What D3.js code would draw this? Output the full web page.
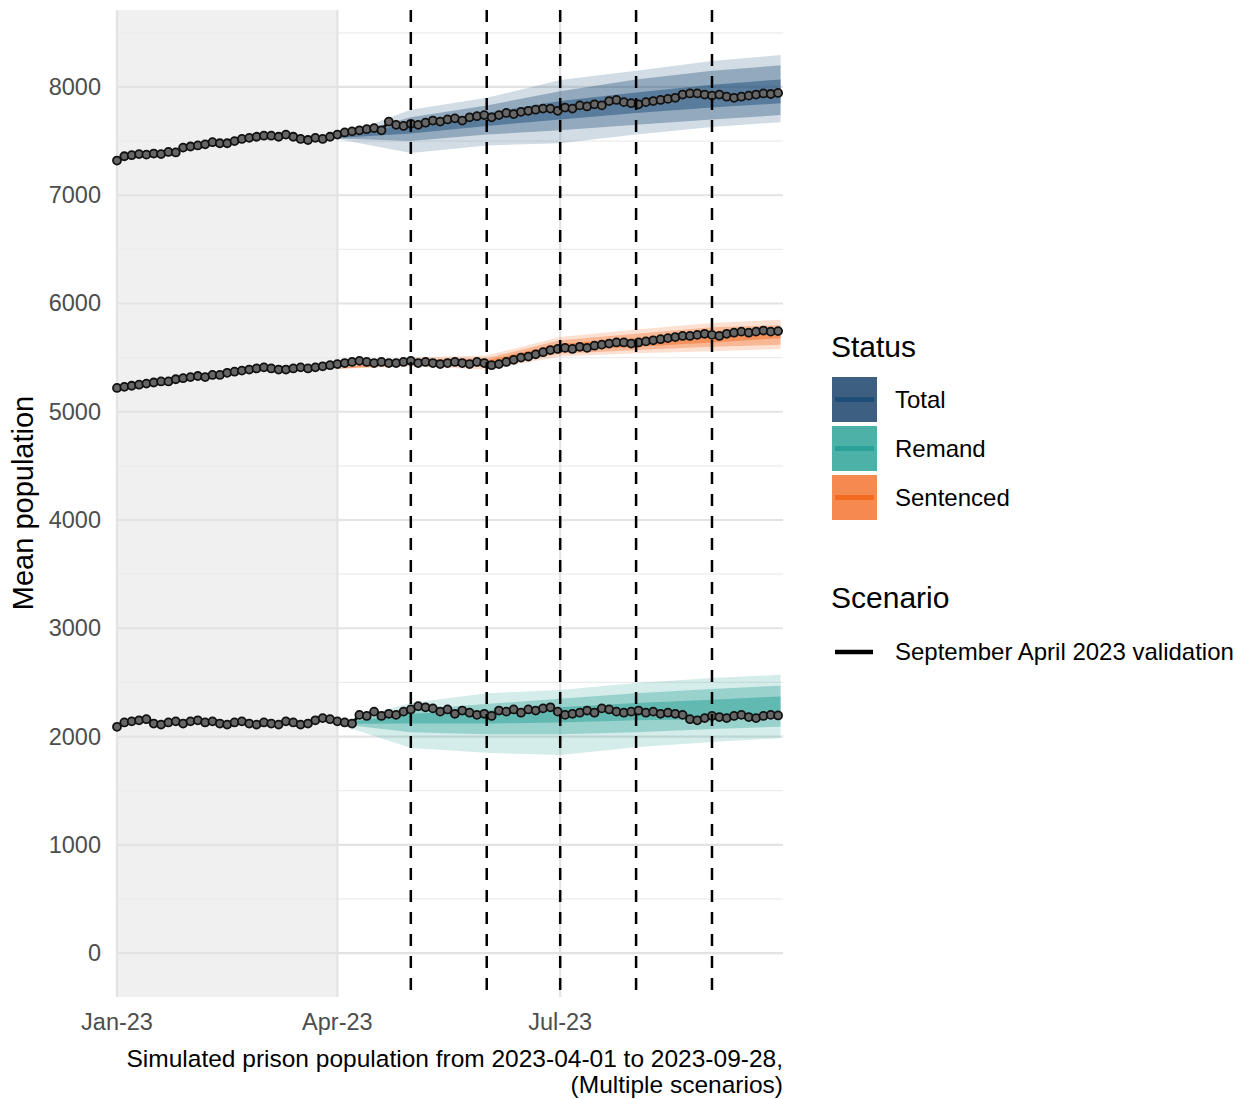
<!DOCTYPE html>
<html>
<head>
<meta charset="utf-8">
<script src="https://cdn.jsdelivr.net/npm/d3@7"></script>
<style>
  body { margin: 0; background: #fff; }
  text { font-family: "Liberation Sans", Arial, sans-serif; }
</style>
</head>
<body>
<svg id="chart" width="1252" height="1099"></svg>
<script>
// Observed series, one value every 3 days from 2023-01-01
const total = [7320,7360,7370,7380,7375,7385,7380,7400,7395,7440,7450,
  7460,7470,7490,7480,7480,7500,7520,7530,7540,7550,
  7550,7540,7560,7540,7520,7510,7530,7520,7540,7560,
  7580,7590,7600,7610,7620,7600,7680,7650,7640,7660,
  7650,7670,7690,7680,7700,7710,7690,7720,7730,7740,
  7720,7740,7760,7750,7770,7780,7790,7800,7800,7780,
  7810,7800,7830,7820,7840,7830,7870,7880,7860,7850,
  7840,7860,7870,7880,7890,7900,7930,7940,7940,7930,
  7920,7930,7910,7900,7910,7920,7930,7940,7935,7945];
const remand = [2090,2130,2140,2150,2160,2120,2110,2130,2140,2120,2140,
  2150,2130,2140,2120,2110,2130,2140,2120,2110,2130,
  2120,2110,2140,2130,2110,2120,2150,2170,2160,2140,
  2130,2120,2200,2190,2230,2190,2210,2200,2230,2250,
  2280,2270,2260,2230,2250,2210,2240,2220,2200,2210,
  2190,2240,2230,2250,2220,2250,2240,2260,2270,2230,
  2200,2210,2220,2240,2220,2260,2250,2230,2220,2230,
  2240,2220,2230,2210,2220,2210,2200,2160,2150,2170,
  2190,2180,2170,2190,2200,2180,2170,2190,2200,2195];
const sentenced = [5220,5230,5240,5250,5260,5270,5280,5280,5300,5310,5320,
  5330,5320,5340,5340,5360,5370,5380,5390,5400,5410,
  5400,5390,5390,5400,5410,5400,5410,5420,5430,5440,
  5450,5460,5470,5460,5450,5460,5450,5450,5460,5470,
  5450,5460,5450,5440,5450,5460,5450,5440,5460,5450,
  5430,5440,5460,5480,5500,5510,5530,5550,5570,5580,
  5590,5580,5600,5590,5610,5620,5630,5640,5640,5630,
  5640,5650,5660,5670,5680,5690,5700,5700,5710,5720,
  5710,5700,5720,5730,5740,5730,5740,5750,5740,5745];

// Simulation quantile knots (days since 2023-01-01)
const knotDays = [90,120,151,181,212,243,271];
const totalBands = {
  lo95: [7520,7390,7460,7480,7560,7630,7675], hi95: [7540,7790,7900,8065,8150,8240,8295],
  lo80: [7525,7500,7560,7600,7650,7700,7740], hi80: [7535,7720,7830,7960,8070,8150,8200],
  lo50: [7528,7570,7640,7700,7760,7810,7850], hi50: [7532,7670,7760,7870,7950,8020,8070]
};
const remandBands = {
  lo95: [2115,1895,1850,1830,1900,1950,1985], hi95: [2125,2310,2400,2430,2495,2540,2570],
  lo80: [2117,2040,2020,2020,2040,2070,2090], hi80: [2123,2250,2300,2350,2400,2440,2470],
  lo50: [2119,2120,2120,2130,2150,2160,2180], hi50: [2121,2210,2240,2270,2310,2340,2370]
};
const sentencedBands = {
  lo95: [5395,5420,5390,5510,5540,5560,5580], hi95: [5405,5500,5520,5690,5760,5820,5850],
  lo80: [5397,5430,5415,5535,5570,5600,5620], hi80: [5403,5490,5495,5660,5720,5780,5800],
  lo50: [5399,5445,5435,5565,5600,5640,5680], hi50: [5401,5475,5475,5625,5680,5730,5760]
};
const markerDates = ["2023-05-01","2023-06-01","2023-07-01","2023-08-01","2023-09-01"];
const xTicks = ["2023-01-01","2023-04-01","2023-07-01"];
const yTicks = [0,1000,2000,3000,4000,5000,6000,7000,8000];
const statusNames = ["Total","Remand","Sentenced"];
const statusColors = ["#1f4e79","#2aa198","#f26b21"];
const keyColors = ["#3d5f82","#4cb2a8","#f48a50"];

const parse = d3.utcParse("%Y-%m-%d");
const start = parse("2023-01-01");
const dayDate = d => d3.utcDay.offset(start, d);

const svg = d3.select("#chart");
const L = 117, R = 783, T = 10, B = 997;
const x = d3.scaleUtc().domain([start, dayDate(272)]).range([L, R]);
const y = d3.scaleLinear().domain([-406, 8711]).range([B, T]);

// grey history region
svg.append("rect").attr("x", L).attr("y", T)
  .attr("width", x(parse("2023-04-01")) - L).attr("height", B - T).attr("fill", "#f0f0f0");

// gridlines
d3.range(0, 8501, 500).forEach(v => {
  svg.append("line").attr("x1", L).attr("x2", R).attr("y1", y(v)).attr("y2", y(v))
    .attr("stroke", v % 1000 === 0 ? "#e3e3e3" : "#ececec").attr("stroke-width", v % 1000 === 0 ? 2.2 : 1.4);
});
xTicks.forEach(t => {
  svg.append("line").attr("x1", x(parse(t))).attr("x2", x(parse(t))).attr("y1", T).attr("y2", B)
    .attr("stroke", "#e3e3e3").attr("stroke-width", 2.2);
});

// simulation bands
const bandSets = [totalBands, remandBands, sentencedBands];
bandSets.forEach((b, i) => {
  [["lo95","hi95",0.2],["lo80","hi80",0.35],["lo50","hi50",0.5]].forEach(([lo, hi, op]) => {
    const area = d3.area()
      .x((d, j) => x(dayDate(knotDays[j])))
      .y0((d, j) => y(b[lo][j]))
      .y1((d, j) => y(b[hi][j]));
    svg.append("path").datum(knotDays).attr("d", area)
      .attr("fill", statusColors[i]).attr("fill-opacity", op);
  });
});

// observed series
[total, remand, sentenced].forEach(s => {
  const line = d3.line().x((d, j) => x(dayDate(j * 3))).y(d => y(d));
  svg.append("path").datum(s).attr("d", line).attr("fill", "none")
    .attr("stroke", "#111").attr("stroke-width", 3);
  svg.append("g").selectAll("circle").data(s).join("circle")
    .attr("cx", (d, j) => x(dayDate(j * 3))).attr("cy", d => y(d)).attr("r", 4)
    .attr("fill", "#666").attr("stroke", "#111").attr("stroke-width", 1.8);
});

// dashed markers
markerDates.forEach(t => {
  svg.append("line").attr("x1", x(parse(t))).attr("x2", x(parse(t))).attr("y1", T).attr("y2", B)
    .attr("stroke", "#000").attr("stroke-width", 2.5).attr("stroke-dasharray", "12,10");
});

// axes labels
yTicks.forEach(v => {
  svg.append("text").attr("x", 101).attr("y", y(v) + 8).attr("text-anchor", "end")
    .attr("font-size", 23.5).attr("fill", "#4d4d4d").text(v);
});
const fmt = d3.utcFormat("%b-%y");
xTicks.forEach(t => {
  svg.append("text").attr("x", x(parse(t))).attr("y", 1030).attr("text-anchor", "middle")
    .attr("font-size", 23.5).attr("fill", "#4d4d4d").text(fmt(parse(t)));
});
svg.append("text").attr("transform", "translate(33,503) rotate(-90)").attr("text-anchor", "middle")
  .attr("font-size", 29).attr("fill", "#000").text("Mean population");
svg.append("text").attr("x", R).attr("y", 1067).attr("text-anchor", "end").attr("font-size", 24.5)
  .text("Simulated prison population from 2023-04-01 to 2023-09-28,");
svg.append("text").attr("x", R).attr("y", 1093).attr("text-anchor", "end").attr("font-size", 24.5)
  .text("(Multiple scenarios)");

// legend
svg.append("text").attr("x", 831).attr("y", 357).attr("font-size", 30).text("Status");
statusNames.forEach((n, i) => {
  const yy = 377 + i * 49;
  svg.append("rect").attr("x", 832).attr("y", yy).attr("width", 45).attr("height", 45).attr("fill", keyColors[i]);
  svg.append("line").attr("x1", 835).attr("x2", 874).attr("y1", yy + 22.5).attr("y2", yy + 22.5)
    .attr("stroke", statusColors[i]).attr("stroke-width", 5);
  svg.append("text").attr("x", 895).attr("y", yy + 31).attr("font-size", 24).text(n);
});
svg.append("text").attr("x", 831).attr("y", 608).attr("font-size", 30).text("Scenario");
svg.append("line").attr("x1", 835).attr("x2", 873).attr("y1", 652).attr("y2", 652)
  .attr("stroke", "#000").attr("stroke-width", 4.5);
svg.append("text").attr("x", 895).attr("y", 660).attr("font-size", 24).text("September April 2023 validation");
</script>
</body>
</html>
